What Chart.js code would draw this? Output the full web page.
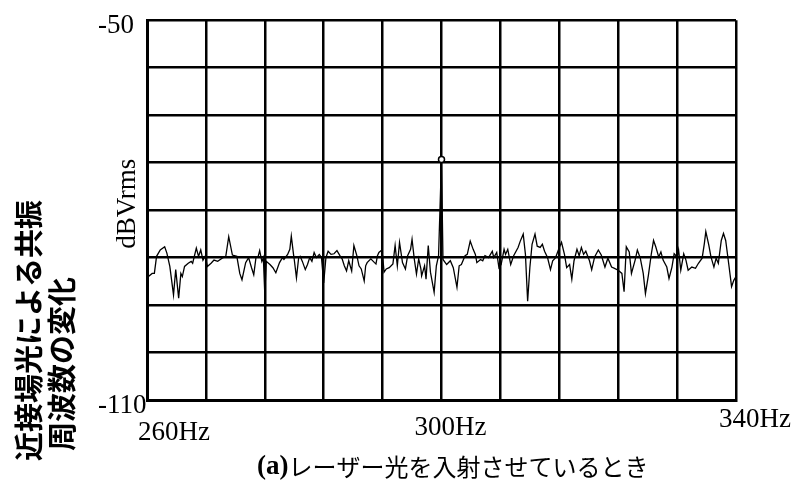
<!DOCTYPE html>
<html>
<head>
<meta charset="utf-8">
<script src="https://cdn.jsdelivr.net/npm/chart.js@4.4.1/dist/chart.umd.min.js"></script>
<style>
  html, body { margin: 0; padding: 0; background: #fff; }
  #wrap { width: 797px; height: 493px; }
</style>
</head>
<body>
<div id="wrap"><canvas id="c" width="797" height="493"></canvas></div>
<script>
// Spectrum trace: frequency (Hz) and level (dBVrms)
const freqHz = [
  260.0, 260.2, 260.7, 261.0, 261.3, 261.8, 262.4, 262.7, 263.1, 263.6,
  263.9, 264.3, 264.6, 264.8, 265.1, 265.6, 266.0, 266.2, 266.7, 267.0,
  267.3, 267.6, 267.9, 268.2, 268.7, 269.1, 269.6, 270.2, 270.7, 271.1,
  271.6, 272.2, 272.6, 272.9, 273.4, 273.8, 274.2, 274.5, 274.8, 275.1,
  275.3, 275.6, 275.8, 276.0, 276.2, 276.7, 277.1, 277.5, 278.0, 278.4,
  278.6, 279.1, 279.4, 279.6, 279.9, 280.0, 280.3, 280.6, 280.8, 281.1,
  281.5, 281.8, 282.1, 282.4, 282.7, 283.0, 283.4, 283.7, 284.0, 284.3,
  284.6, 285.0, 285.4, 285.8, 286.2, 286.5, 286.8, 287.1, 287.4, 287.8,
  288.1, 288.5, 288.8, 289.1, 289.5, 289.7, 289.9, 290.4, 290.9, 291.1,
  291.3, 291.5, 291.8, 292.0, 292.2, 292.5, 292.9, 293.4, 293.7, 294.0,
  294.3, 294.5, 294.7, 295.1, 295.4, 295.8, 296.0, 296.3, 296.6, 296.9,
  297.2, 297.3, 297.7, 297.9, 298.2, 298.5, 299.0, 299.3, 299.6, 300.0,
  300.2, 300.7, 301.2, 301.6, 302.1, 302.4, 302.7, 303.2, 303.5, 303.9,
  304.3, 304.6, 304.8, 305.3, 305.6, 305.9, 306.4, 306.9, 307.1, 307.5,
  307.8, 308.1, 308.5, 308.7, 309.0, 309.4, 309.8, 310.4, 310.7, 311.1,
  311.4, 311.7, 312.0, 312.3, 312.7, 313.0, 313.4, 313.7, 314.0, 314.4,
  314.8, 315.1, 315.5, 316.0, 316.3, 316.7, 317.0, 317.4, 317.7, 318.0,
  318.4, 318.7, 319.0, 319.3, 319.6, 320.1, 320.4, 320.8, 321.3, 321.7,
  322.2, 322.6, 323.1, 323.5, 324.0, 324.5, 324.8, 325.1, 325.5, 325.8,
  326.3, 326.6, 327.0, 327.4, 327.7, 328.1, 328.5, 328.8, 329.1, 329.5,
  329.8, 330.1, 330.6, 330.9, 331.3, 331.6, 332.0, 332.2, 332.5, 332.9,
  333.2, 333.5, 334.0, 334.5, 334.9, 335.4, 335.7, 335.9, 336.3, 336.6,
  337.0, 337.3, 337.6, 338.0, 338.3, 338.6, 339.0, 339.4, 339.7, 340.0
];
const levelDb = [
  -88.4, -90.5, -90.0, -90.0, -87.3, -86.3, -85.8, -86.8, -88.9, -93.4,
  -89.4, -93.9, -90.0, -90.5, -88.9, -88.4, -88.1, -88.4, -86.0, -87.3,
  -86.3, -87.9, -87.3, -88.9, -88.4, -87.9, -88.1, -87.6, -87.3, -84.2,
  -87.1, -87.3, -90.0, -91.0, -88.3, -87.5, -89.1, -90.2, -87.5, -87.3,
  -86.4, -88.1, -87.5, -93.3, -88.1, -88.6, -89.1, -89.9, -88.3, -87.5,
  -87.8, -87.0, -86.2, -84.1, -87.0, -87.8, -90.7, -87.5, -87.3, -88.1,
  -89.4, -88.6, -87.5, -88.1, -86.7, -87.5, -87.0, -87.5, -91.5, -87.5,
  -86.5, -87.0, -86.9, -86.4, -87.2, -87.7, -88.8, -89.6, -88.0, -89.6,
  -85.6, -87.2, -88.8, -89.3, -91.2, -88.8, -88.3, -87.7, -88.3, -88.5,
  -87.2, -86.7, -86.4, -87.2, -89.8, -89.3, -89.1, -88.5, -85.6, -88.8,
  -85.1, -86.7, -88.3, -89.3, -87.2, -86.2, -84.6, -87.7, -90.1, -87.7,
  -89.3, -90.4, -88.8, -90.9, -85.6, -89.8, -93.0, -88.8, -87.2, -72.0,
  -87.8, -88.6, -88.0, -89.1, -92.2, -88.8, -88.6, -87.2, -87.0, -84.9,
  -86.2, -87.0, -88.3, -87.8, -88.0, -87.2, -87.5, -86.5, -87.5, -86.7,
  -89.1, -88.6, -86.2, -87.0, -86.2, -88.6, -87.2, -85.9, -84.9, -83.8,
  -87.0, -94.4, -89.1, -85.4, -83.8, -85.7, -85.9, -85.4, -86.5, -87.5,
  -89.4, -88.0, -87.5, -85.9, -85.1, -87.0, -89.1, -88.6, -90.9, -88.0,
  -86.2, -87.2, -85.9, -87.0, -86.5, -88.0, -89.4, -87.4, -86.3, -87.1,
  -89.0, -87.6, -89.0, -89.2, -89.5, -90.0, -92.9, -85.8, -86.6, -90.0,
  -87.9, -86.3, -87.6, -90.0, -93.2, -90.3, -86.9, -84.8, -85.8, -87.4,
  -86.6, -87.9, -89.0, -90.8, -89.0, -86.9, -87.4, -86.3, -89.5, -86.9,
  -87.9, -89.5, -89.0, -89.2, -88.4, -87.6, -85.3, -83.4, -85.5, -87.4,
  -89.0, -87.6, -88.4, -84.8, -83.7, -84.8, -88.4, -92.1, -91.1, -90.5
];

// Axis ticks and labels
const yLabelledTicks = [-50, -110];
const xLabelValues = [260, 300, 340];
const xLabelTexts = ['260Hz', '300Hz', '340Hz'];
const yAxisTitle = 'dBVrms';
const sideTitleLines = ['近接場光による共振', '周波数の変化'];
const captionTag = '(a)';
const captionText = 'レーザー光を入射させているとき';

const serif = '"Liberation Serif", "DejaVu Serif", serif';
const gothic = '"Noto Sans CJK JP", "Noto Sans", sans-serif';

// Frequency labels, unit title, rotated side title and caption
const annotate = {
  id: 'annotate',
  afterDraw(chart) {
    const { ctx, chartArea: a, scales } = chart;
    const xs = scales.x, ys = scales.y;
    ctx.save();
    ctx.fillStyle = '#000';

    // frequency labels: [horizontal shift, align, drop below the plot]
    const place = [[-9, 'left', 33], [9, 'center', 28], [19, 'center', 20]];
    ctx.font = '27px ' + serif;
    ctx.textBaseline = 'middle';
    xLabelValues.forEach((v, i) => {
      const px = xs.getPixelForValue(v);
      ctx.textAlign = place[i][1];
      ctx.fillText(xLabelTexts[i], px + place[i][0], a.bottom + place[i][2]);
    });

    ctx.save();
    ctx.translate(a.left - 19, ys.getPixelForValue(-79));
    ctx.rotate(-Math.PI / 2);
    ctx.textAlign = 'center';
    ctx.font = '27px ' + serif;
    ctx.fillText(yAxisTitle, 0, 0);
    ctx.restore();

    // two-line side title, read bottom to top
    ctx.font = 'bold 29px ' + gothic;
    ctx.textAlign = 'left';
    [[29, 461], [62, 451]].forEach((p, i) => {
      ctx.save();
      ctx.translate(p[0], p[1]);
      ctx.rotate(-Math.PI / 2);
      ctx.fillText(sideTitleLines[i], 0, 0);
      ctx.restore();
    });

    ctx.textAlign = 'left';
    ctx.font = 'bold 27px ' + serif;
    ctx.fillText(captionTag, 257, 467);
    const tagW = ctx.measureText(captionTag).width;
    ctx.font = '24px ' + gothic;
    ctx.fillText(captionText, 257 + tagW, 467);
    ctx.restore();
  }
};

new Chart(document.getElementById('c'), {
  type: 'line',
  data: {
    datasets: [{
      data: freqHz.map((f, i) => ({ x: f, y: levelDb[i] })),
      borderColor: '#000',
      borderWidth: 1.3,
      tension: 0,
      pointRadius: c => (c.raw && c.raw.y > -80 ? 3 : 0),
      pointBorderColor: '#000',
      pointBackgroundColor: '#fff',
      pointBorderWidth: 1.5
    }]
  },
  options: {
    responsive: false,
    animation: false,
    layout: { padding: { left: 98, right: 61, top: 20, bottom: 93 } },
    plugins: { legend: { display: false }, tooltip: { enabled: false } },
    scales: {
      x: {
        type: 'linear',
        min: 260,
        max: 340,
        ticks: { stepSize: 8, display: false },
        grid: { color: '#000', lineWidth: 2.5, drawTicks: false },
        border: { color: '#000', width: 3 }
      },
      y: {
        min: -110,
        max: -50,
        ticks: {
          stepSize: 7.5,
          callback: v => (yLabelledTicks.includes(v) ? String(v) : ''),
          color: '#000',
          font: { family: serif, size: 27 },
          crossAlign: 'far',
          labelOffset: 6,
          padding: 4
        },
        grid: { color: '#000', lineWidth: 2.5, drawTicks: false },
        border: { color: '#000', width: 3 },
        afterFit(scale) { scale.width = 49; }
      }
    }
  },
  plugins: [annotate]
});
</script>
</body>
</html>
